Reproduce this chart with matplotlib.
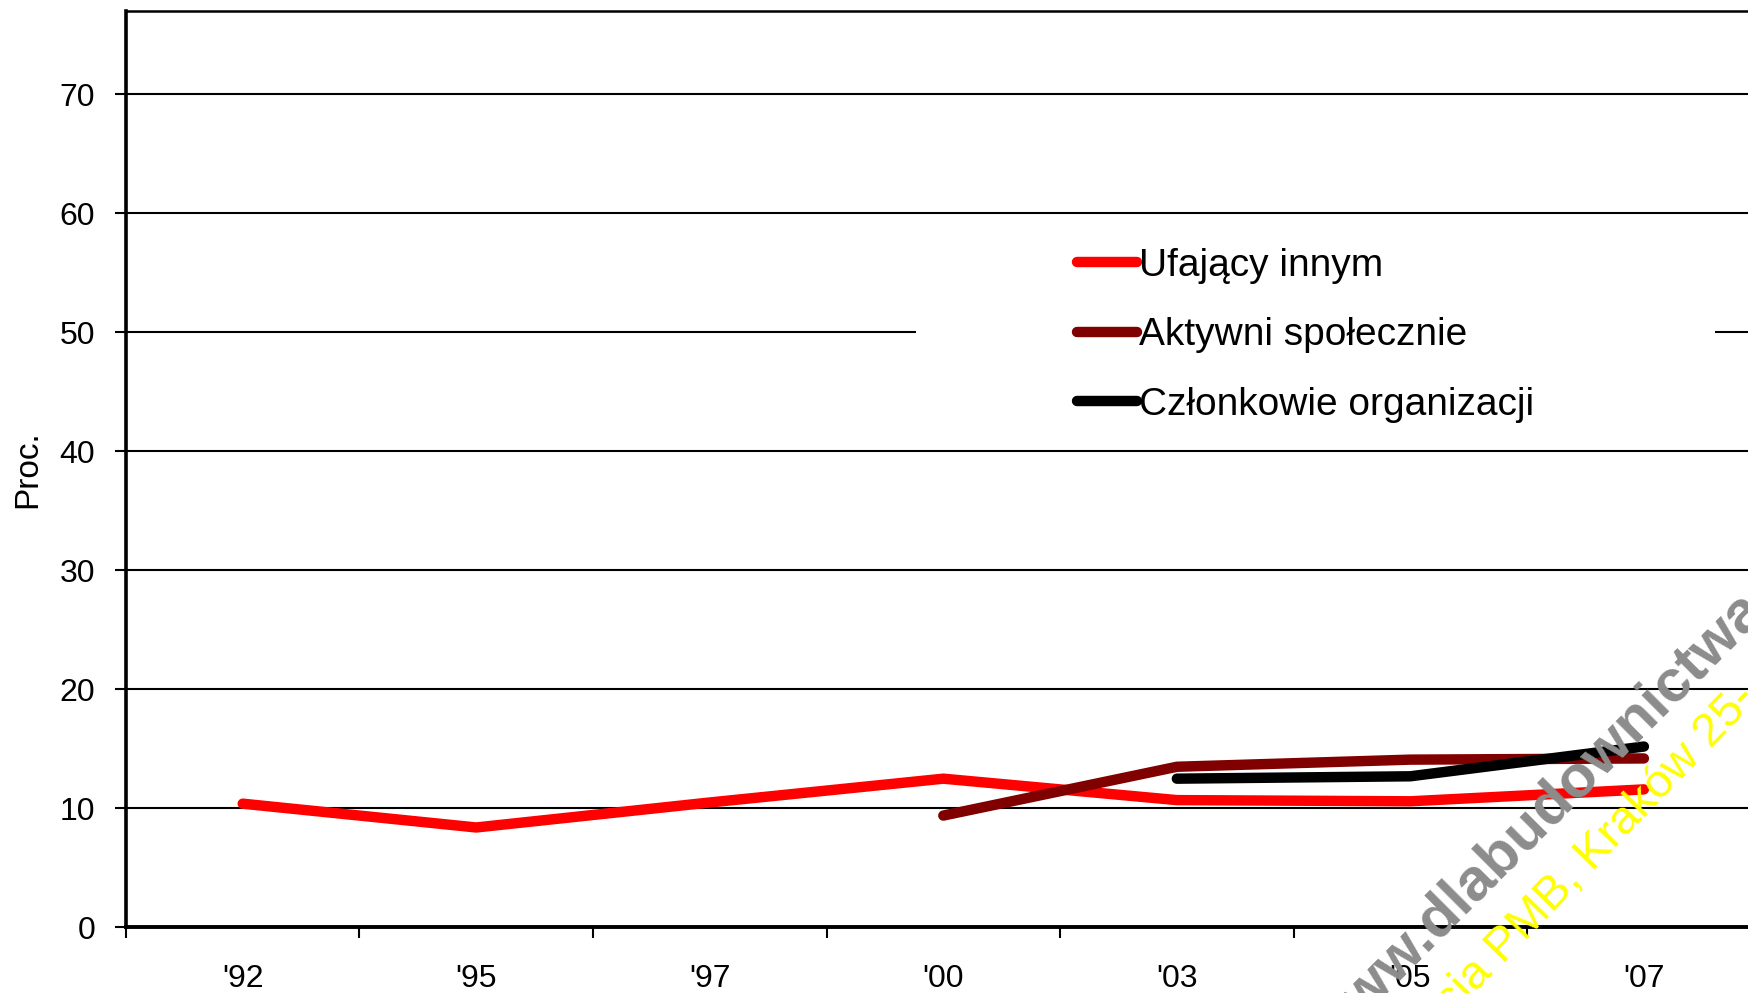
import numpy as np
import matplotlib
matplotlib.use('Agg')
import matplotlib.pyplot as plt
from matplotlib.patches import Rectangle

plt.rcParams['font.family'] = ['Liberation Sans', 'DejaVu Sans']

# --- Data ---
years = ["'92", "'95", "'97", "'00", "'03", "'05", "'07"]
ufajacy = [10.4, 8.4, 10.5, 12.5, 10.7, 10.6, 11.6]
aktywni = [np.nan, np.nan, np.nan, 9.4, 13.5, 14.1, 14.2]
czlonkowie = [np.nan, np.nan, np.nan, np.nan, 12.5, 12.7, 15.2]
labels = ['Ufający innym', 'Aktywni społecznie', 'Członkowie organizacji']
colors = ['#ff0000', '#800000', '#000000']

fig = plt.figure(figsize=(17.49, 9.93), dpi=100)
ax = fig.add_axes([0.072, 0.066, 0.928, 0.923])

x = np.arange(len(years))
for vals, lab, col in zip([ufajacy, aktywni, czlonkowie], labels, colors):
    ax.plot(x, vals, color=col, lw=7.5, label=lab, solid_capstyle='round',
            solid_joinstyle='round', zorder=3)

# --- Axes ---
ax.set_xlim(-0.5, 6.45)
ax.set_ylim(0, 77)
ax.set_yticks(range(0, 80, 10))
ax.tick_params(axis='y', direction='out', length=8, width=1.5, pad=14, labelsize=23)

ax.set_xticks(np.arange(-0.5, 6.5, 1))
ax.set_xticklabels([])
ax.set_xticks(x, minor=True)
ax.set_xticklabels(years, minor=True)
ax.tick_params(axis='x', which='major', direction='out', length=8, width=1.5)
ax.tick_params(axis='x', which='minor', length=0, pad=26, labelsize=23)

for v in range(10, 80, 10):
    ax.axhline(v, color='black', lw=1.5, zorder=0.5)

ax.spines['right'].set_visible(False)
ax.spines['left'].set_linewidth(2.6)
ax.spines['bottom'].set_linewidth(2.8)
ax.spines['top'].set_linewidth(1.8)

ax.set_ylabel('Proc.', fontsize=24, labelpad=12)

# white box behind legend (hides the gridline at 50)
ax.add_patch(Rectangle((0.487, 0.53), 0.492, 0.24, transform=ax.transAxes,
                       facecolor='white', edgecolor='none', zorder=1))
ax.legend(loc='center left', bbox_to_anchor=(0.586, 0.646), frameon=False,
          fontsize=28, borderpad=0, borderaxespad=0, handlelength=1.55,
          handletextpad=0.05, labelspacing=0.86)

# --- Watermark ---
fig.text(1562 / 1749, 1 - 797 / 993, 'www.dlabudownictwa.pl', fontsize=43,
         fontweight='bold', color='#8c8c8c', rotation=45, ha='center',
         va='center', rotation_mode='anchor', zorder=5)
fig.text(1758 / 1749, 1 - 700 / 993, 'Konferencja PMB, Kraków 25-', fontsize=34,
         color='#ffff00', rotation=46, ha='right', va='baseline',
         rotation_mode='anchor', zorder=5)

fig.savefig('out.png', dpi=100)
